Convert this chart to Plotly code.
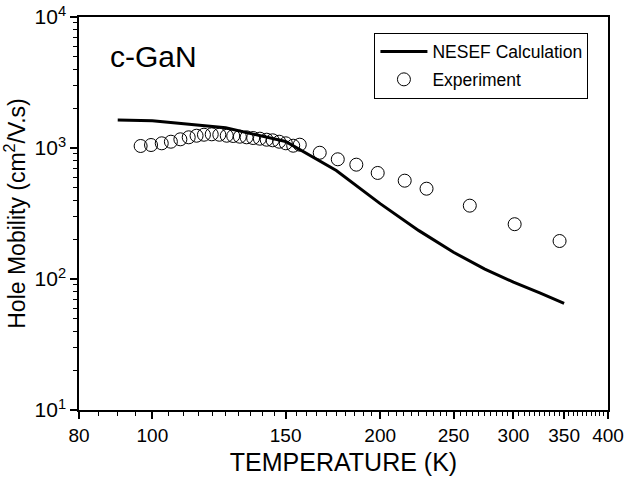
import numpy as np
import plotly.graph_objects as go

# NESEF calculation curve
calc_T = [90, 100, 125, 150, 175, 200, 225, 250, 275, 300, 325, 350]
calc_mu = [1636, 1616, 1429, 1121, 673, 376, 234, 160, 119, 94.5, 78.3, 65.2]

# Experimental data
exp_T = [96.5, 99.6, 102.9, 105.8, 108.9, 111.7, 114.4, 117.0, 119.8, 122.6,
         125.4, 127.9, 130.5, 133.2, 135.9, 138.7, 141.6, 144.2, 147.1, 150.1,
         153.5, 156.6, 166.4, 175.8, 186.0, 198.5, 215.5, 230.3, 262.7, 301.1, 345.2]
exp_mu = [1036, 1054, 1086, 1117, 1165, 1207, 1241, 1263, 1272, 1263,
          1241, 1235, 1220, 1207, 1192, 1178, 1157, 1145, 1117, 1086,
          1041, 1060, 920, 820, 746, 645, 563, 489, 363, 262, 195]

x_major = [80, 100, 150, 200, 250, 300, 350, 400]
x_minor = [t for t in range(85, 400, 5) if t not in x_major]
y_major = [10, 100, 1000, 10000]
y_labels = ["10<sup>1</sup>", "10<sup>2</sup>", "10<sup>3</sup>", "10<sup>4</sup>"]
y_minor = [m * 10 ** k for k in range(1, 4) for m in range(2, 10)]

FONT = "Liberation Sans, Arial, sans-serif"

fig = go.Figure()
fig.add_trace(go.Scatter(x=calc_T, y=calc_mu, mode="lines", name="NESEF Calculation",
                         legendgroup="a",
                         line=dict(color="black", width=3)))
fig.add_trace(go.Scatter(x=exp_T, y=exp_mu, mode="markers", name="Experiment",
                         legendgroup="b",
                         marker=dict(symbol="circle-open", size=13, color="black",
                                     line=dict(width=1, color="black"))))

xr = [np.log10(80), np.log10(400)]
fig.update_layout(
    template="none",
    width=627, height=480,
    margin=dict(l=79, r=19, t=17, b=70),
    paper_bgcolor="white", plot_bgcolor="white",
    font=dict(family=FONT, color="black"),
    showlegend=True,
    legend=dict(x=0.963, xanchor="right", y=0.96, yanchor="top",
                bgcolor="white", bordercolor="black", borderwidth=1,
                itemwidth=47, traceorder="grouped", tracegroupgap=2,
                font=dict(size=17.5, family=FONT)),
    xaxis=dict(type="log", range=xr, tickmode="array", tickvals=x_major,
               ticktext=[str(v) for v in x_major], automargin=False,
               ticks="outside", ticklen=7, tickwidth=1.5, tickcolor="black",
               minor=dict(tickmode="array", tickvals=x_minor, ticks="outside",
                          ticklen=4, tickwidth=1.2, tickcolor="black", showgrid=False),
               showline=True, linecolor="black", linewidth=1.5, mirror=True,
               showgrid=False, zeroline=False,
               tickfont=dict(size=19),
               title=dict(text="TEMPERATURE (K)", font=dict(size=25), standoff=9)),
    xaxis2=dict(type="log", range=xr, overlaying="x", side="top", anchor="y",
                automargin=False,
                tickmode="array", tickvals=x_major, showticklabels=False,
                ticks="inside", ticklen=6, tickwidth=1.2, tickcolor="black",
                minor=dict(tickmode="array", tickvals=x_minor, ticks="inside",
                           ticklen=4, tickwidth=1.2, tickcolor="black", showgrid=False),
                showline=True, linecolor="black", linewidth=1.5,
                showgrid=False, zeroline=False),
    yaxis=dict(type="log", range=[1, 4], tickmode="array", tickvals=y_major,
               ticktext=y_labels, automargin=False,
               ticks="outside", ticklen=7, tickwidth=1.5, tickcolor="black",
               minor=dict(tickmode="array", tickvals=y_minor, ticks="outside",
                          ticklen=4, tickwidth=1.2, tickcolor="black", showgrid=False),
               showline=True, linecolor="black", linewidth=1.5, mirror=True,
               showgrid=False, zeroline=False,
               tickfont=dict(size=21),
               title=dict(text="Hole Mobility (cm<sup>2</sup>/V.s)", font=dict(size=23), standoff=6)),
    annotations=[dict(text="c-GaN", xref="paper", yref="paper", x=0.055, y=0.9,
                      xanchor="left", yanchor="middle", showarrow=False,
                      font=dict(size=30, family=FONT))],
)

fig.write_html("out.html")
